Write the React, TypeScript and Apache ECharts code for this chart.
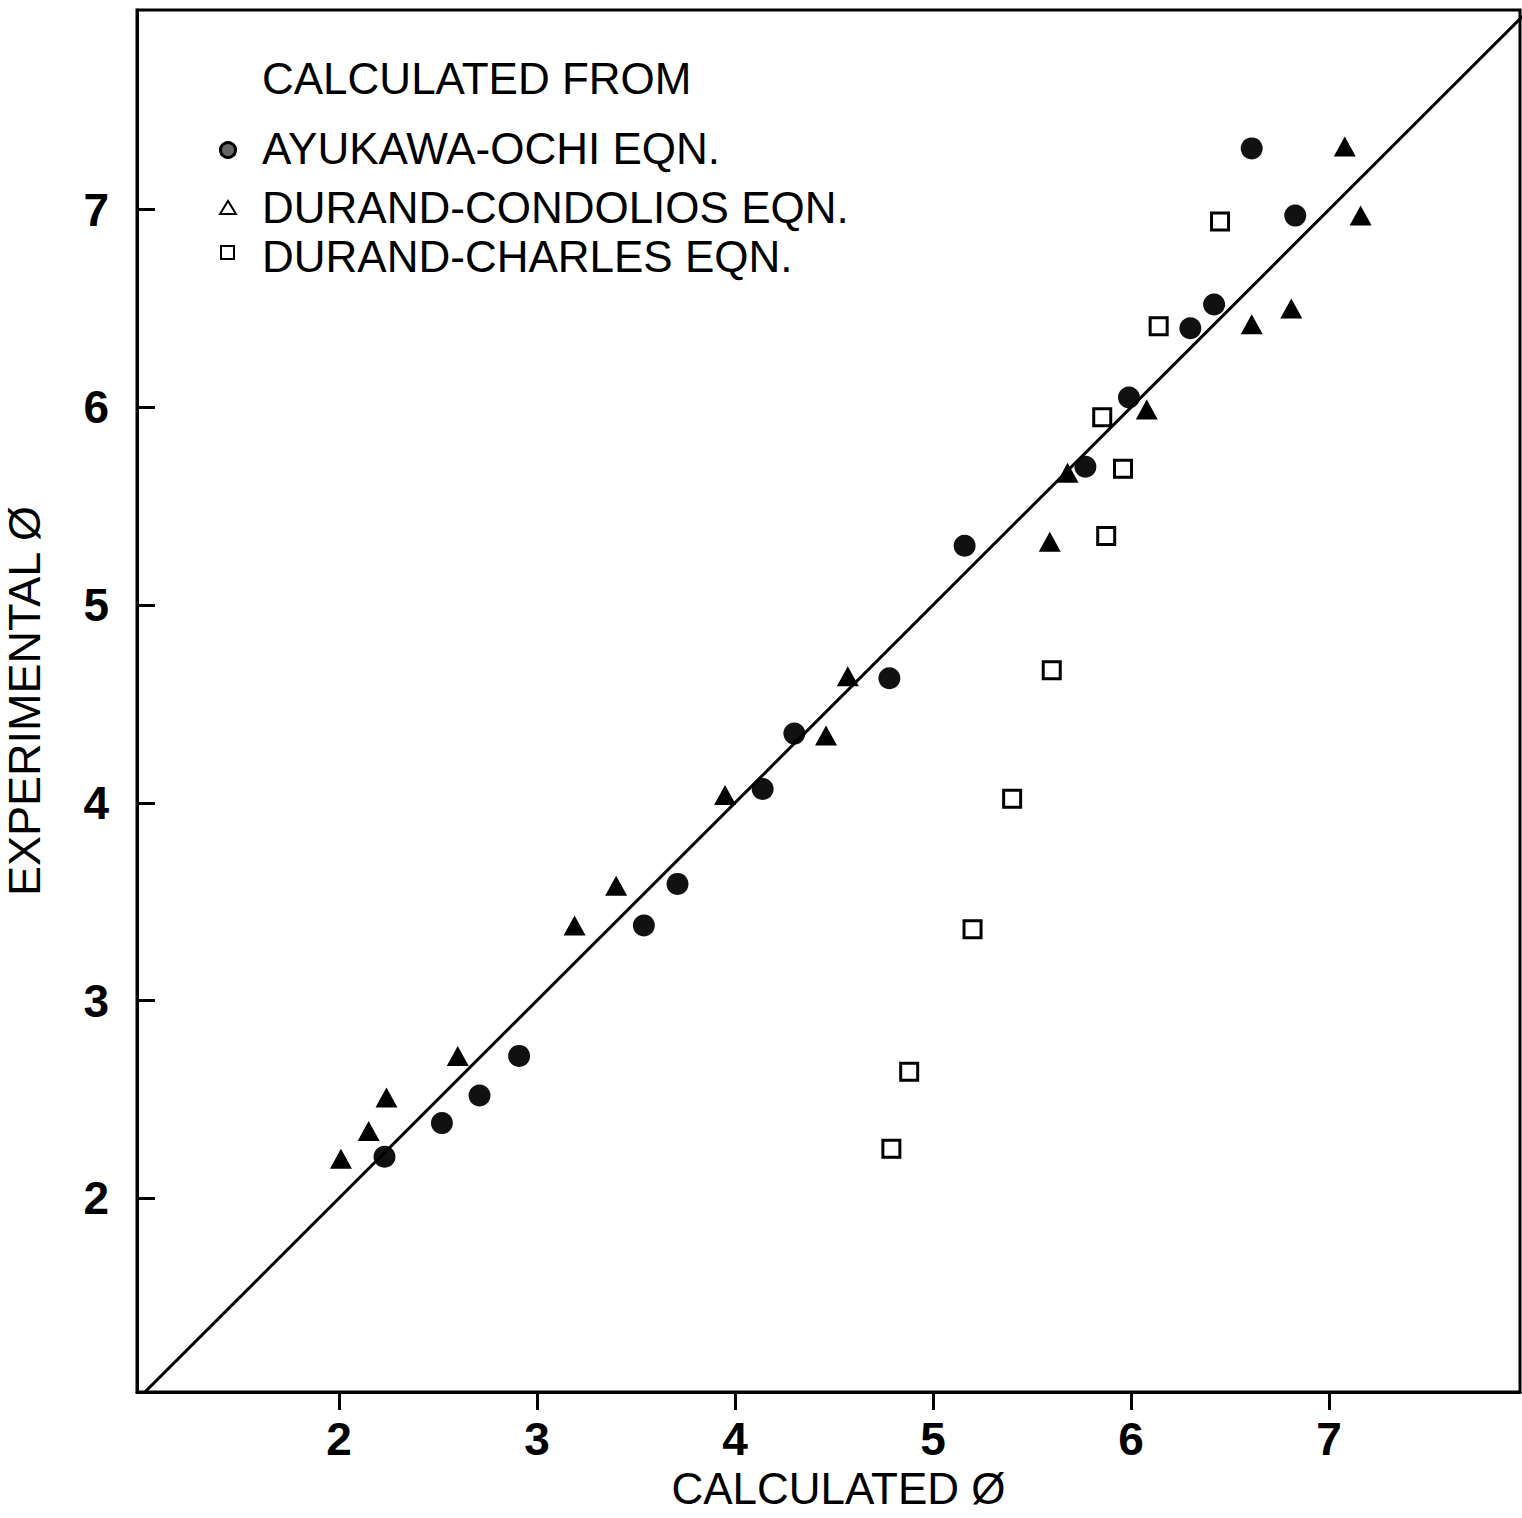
import React, { useEffect, useRef } from "react";
import * as echarts from "echarts";

// Ayukawa-Ochi equation (circles)
const ayukawaX = [2.23, 2.52, 2.71, 2.91, 3.54, 3.71, 4.14, 4.30, 4.78, 5.16, 5.77, 5.99, 6.30, 6.42, 6.61, 6.83];
const ayukawaY = [2.21, 2.38, 2.52, 2.72, 3.38, 3.59, 4.07, 4.35, 4.63, 5.30, 5.70, 6.05, 6.40, 6.52, 7.31, 6.97];
// Durand-Condolios equation (triangles)
const condoliosX = [2.01, 2.15, 2.24, 2.60, 3.19, 3.40, 3.95, 4.46, 4.57, 5.59, 5.68, 6.08, 6.61, 6.81, 7.08, 7.16];
const condoliosY = [2.20, 2.34, 2.51, 2.72, 3.38, 3.58, 4.04, 4.34, 4.64, 5.32, 5.67, 5.99, 6.42, 6.50, 7.32, 6.97];
// Durand-Charles equation (squares)
const charlesX = [4.79, 4.88, 5.20, 5.40, 5.60, 5.875, 5.96, 5.855, 6.14, 6.45];
const charlesY = [2.25, 2.64, 3.36, 4.02, 4.67, 5.35, 5.69, 5.95, 6.41, 6.94];
// Line of perfect agreement
const diagonal = [[1, 1], [8, 8]];

// Axis extents as drawn in the original frame
const xMin = 0.98;
const xMax = 7.965;
const yMin = 1.02;
const yMax = 8.01;
const tickValues = [2, 3, 4, 5, 6, 7];

const legendTitle = "CALCULATED FROM";
const seriesNames = ["AYUKAWA-OCHI EQN.", "DURAND-CONDOLIOS EQN.", "DURAND-CHARLES EQN."];
const xTitle = "CALCULATED Ø";
const yTitle = "EXPERIMENTAL Ø";

const FONT = "'Liberation Sans', Arial, sans-serif";

const zip = (xs: number[], ys: number[]) => xs.map((x, i) => [x, ys[i]]);

export default function App() {
  const ref = useRef<HTMLDivElement>(null);
  useEffect(() => {
    if (!ref.current) return;
    const chart = echarts.init(ref.current, null, { renderer: "svg" });
    const labelStyle = {
      customValues: tickValues,
      formatter: (v: number) => String(Math.round(v)),
      margin: 26,
      fontFamily: FONT,
      fontSize: 46,
      fontWeight: "bold",
      color: "#000",
      showMinLabel: true,
      showMaxLabel: true,
    };
    const axisCommon = {
      type: "value",
      splitLine: { show: false },
      axisLine: { show: true, lineStyle: { color: "#000", width: 3 } },
    };
    chart.setOption({
      animation: false,
      backgroundColor: "#fff",
      grid: {
        left: 137,
        right: 2,
        top: 10,
        bottom: 126,
        show: true,
        borderColor: "#000",
        borderWidth: 3,
        outerBoundsMode: "none",
        containLabel: false,
      },
      xAxis: {
        ...axisCommon,
        min: xMin,
        max: xMax,
        name: xTitle,
        nameLocation: "middle",
        nameGap: 74,
        nameTextStyle: { fontFamily: FONT, fontSize: 44, color: "#000", padding: [0, 0, 0, 20] },
        axisTick: { show: true, inside: false, length: 18, customValues: tickValues, lineStyle: { color: "#000", width: 3 } },
        axisLabel: { ...labelStyle, margin: 24 },
      },
      yAxis: {
        ...axisCommon,
        min: yMin,
        max: yMax,
        name: yTitle,
        nameLocation: "middle",
        nameGap: 90,
        nameTextStyle: { fontFamily: FONT, fontSize: 45, color: "#000" },
        axisTick: { show: true, inside: true, length: 18, customValues: tickValues, lineStyle: { color: "#000", width: 3 } },
        axisLabel: { ...labelStyle, margin: 28 },
      },
      graphic: [
        { type: "text", x: 262, y: 78, style: { text: legendTitle, font: `44px ${FONT}`, fill: "#000", verticalAlign: "middle", textVerticalAlign: "middle" } },
        { type: "text", x: 262, y: 148, style: { text: seriesNames[0], font: `44px ${FONT}`, fill: "#000", verticalAlign: "middle", textVerticalAlign: "middle" } },
        { type: "text", x: 262, y: 207, style: { text: seriesNames[1], font: `44px ${FONT}`, fill: "#000", verticalAlign: "middle", textVerticalAlign: "middle" } },
        { type: "text", x: 262, y: 256, style: { text: seriesNames[2], font: `44px ${FONT}`, fill: "#000", verticalAlign: "middle", textVerticalAlign: "middle" } },
        { type: "circle", shape: { cx: 228, cy: 150, r: 7.5 }, style: { fill: "#666", stroke: "#000", lineWidth: 3 } },
        { type: "polygon", shape: { points: [[228, 201], [220, 214], [236, 214]] }, style: { fill: "#fff", stroke: "#000", lineWidth: 2 } },
        { type: "rect", shape: { x: 221, y: 246, width: 13, height: 13 }, style: { fill: "#fff", stroke: "#000", lineWidth: 2 } },
      ],
      series: [
        {
          type: "line",
          data: diagonal,
          symbol: "none",
          silent: true,
          clip: true,
          lineStyle: { color: "#000", width: 3 },
        },
        {
          name: seriesNames[0],
          type: "scatter",
          data: zip(ayukawaX, ayukawaY),
          symbol: "circle",
          symbolSize: 22,
          itemStyle: { color: "#111", opacity: 1 },
        },
        {
          name: seriesNames[1],
          type: "scatter",
          data: zip(condoliosX, condoliosY),
          symbol: "triangle",
          symbolSize: [22, 20],
          itemStyle: { color: "#000", opacity: 1 },
        },
        {
          name: seriesNames[2],
          type: "scatter",
          data: zip(charlesX, charlesY),
          symbol: "rect",
          symbolSize: 17,
          itemStyle: { color: "#fff", borderColor: "#000", borderWidth: 3, opacity: 1 },
        },
      ],
    });
    return () => chart.dispose();
  }, []);
  return (
    <div
      ref={ref}
      style={{ position: "absolute", left: 0, top: 0, width: 1522, height: 1518, background: "#fff" }}
    />
  );
}
